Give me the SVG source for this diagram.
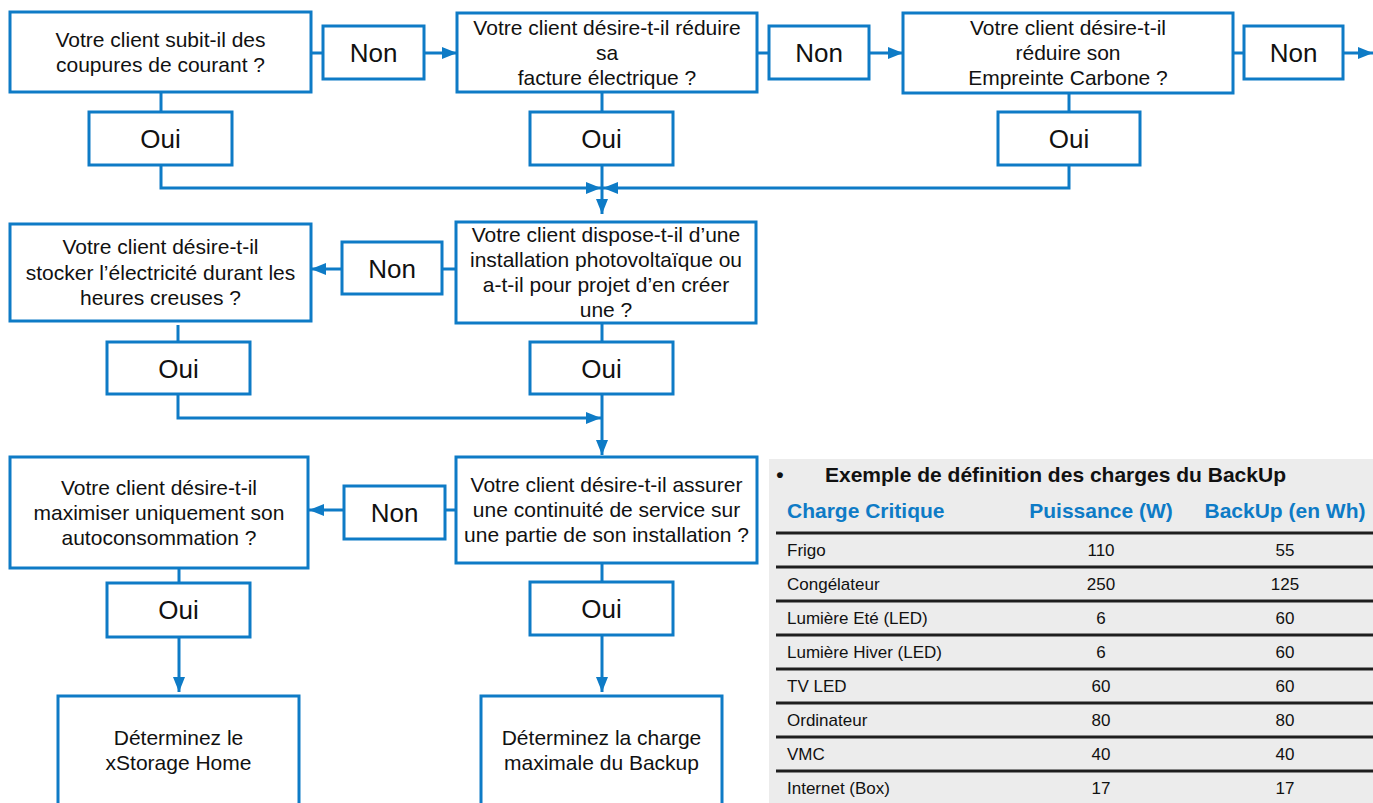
<svg xmlns="http://www.w3.org/2000/svg" width="1373" height="803" viewBox="0 0 1373 803">
<defs>
<marker id="ah" markerUnits="userSpaceOnUse" markerWidth="15" markerHeight="12" refX="15" refY="6" orient="auto">
<path d="M0,0 L15,6 L0,12 z" fill="#0e7bc6"/>
</marker>
<style>
.box{fill:#fff;stroke:#0e7bc6;stroke-width:3}
.t{font-family:"Liberation Sans",Arial,sans-serif;font-size:21px;fill:#111;text-anchor:middle}
.yn{font-family:"Liberation Sans",Arial,sans-serif;font-size:26px;fill:#111;text-anchor:middle}
.c{fill:none;stroke:#0e7bc6;stroke-width:3}
.ca{fill:none;stroke:#0e7bc6;stroke-width:3;marker-end:url(#ah)}
.tb{font-family:"Liberation Sans",Arial,sans-serif;font-size:17px;fill:#111}
.th{font-family:"Liberation Sans",Arial,sans-serif;font-size:21px;font-weight:bold;fill:#0e7bc6}
.tt{font-family:"Liberation Sans",Arial,sans-serif;font-size:21px;font-weight:bold;fill:#111}
.rl{stroke:#1e1e1e;stroke-width:3}
</style>
</defs>
<rect width="1373" height="803" fill="#fff"/>

<g id="connectors">
<line class="c" x1="311" y1="53" x2="323" y2="53"/>
<line class="ca" x1="424" y1="53" x2="457" y2="53"/>
<line class="c" x1="757" y1="53" x2="769" y2="53"/>
<line class="ca" x1="869" y1="53" x2="903" y2="53"/>
<line class="c" x1="1233" y1="53" x2="1244" y2="53"/>
<line class="ca" x1="1343" y1="53" x2="1373" y2="53"/>
<line class="c" x1="161" y1="92" x2="161" y2="112"/>
<line class="c" x1="602" y1="92" x2="602" y2="112"/>
<line class="c" x1="1069" y1="93" x2="1069" y2="112"/>
<path class="ca" d="M161,165 V188 H601"/>
<path class="ca" d="M1069,165 V188 H603"/>
<path class="ca" d="M602,165 V214"/>
<line class="c" x1="456" y1="269" x2="442" y2="269"/>
<line class="ca" x1="342" y1="269" x2="311" y2="269"/>
<line class="c" x1="602" y1="323" x2="602" y2="342"/>
<line class="c" x1="178" y1="325" x2="178" y2="342"/>
<path class="ca" d="M178,394 V418 H601"/>
<path class="ca" d="M602,394 V455"/>
<line class="c" x1="456" y1="510" x2="445" y2="510"/>
<line class="ca" x1="344" y1="510" x2="309" y2="510"/>
<line class="c" x1="602" y1="563" x2="602" y2="582"/>
<line class="c" x1="179" y1="568" x2="179" y2="583"/>
<line class="ca" x1="602" y1="635" x2="602" y2="692"/>
<line class="ca" x1="179" y1="637" x2="179" y2="692"/>
</g>

<g id="q1"><rect class="box" x="10" y="12" width="301" height="80"/>
<text class="t" x="160.5" y="47">Votre client subit-il des</text>
<text class="t" x="160.5" y="72">coupures de courant ?</text></g>
<g id="non1"><rect class="box" x="323" y="26" width="101" height="53"/><text class="yn" x="373.5" y="62">Non</text></g>
<g id="oui1"><rect class="box" x="89" y="112" width="143" height="53"/><text class="yn" x="160.5" y="148">Oui</text></g>

<g id="q2"><rect class="box" x="457" y="13" width="300" height="79"/>
<text class="t" x="607" y="35">Votre client désire-t-il réduire</text>
<text class="t" x="607" y="60">sa</text>
<text class="t" x="607" y="85">facture électrique ?</text></g>
<g id="non2"><rect class="box" x="769" y="26" width="100" height="53"/><text class="yn" x="819" y="62">Non</text></g>
<g id="oui2"><rect class="box" x="530" y="112" width="143" height="53"/><text class="yn" x="601.5" y="148">Oui</text></g>

<g id="q3"><rect class="box" x="903" y="13" width="330" height="80"/>
<text class="t" x="1068" y="35">Votre client désire-t-il</text>
<text class="t" x="1068" y="60">réduire son</text>
<text class="t" x="1068" y="85">Empreinte Carbone ?</text></g>
<g id="non3"><rect class="box" x="1244" y="26" width="99" height="53"/><text class="yn" x="1293.5" y="62">Non</text></g>
<g id="oui3"><rect class="box" x="998" y="112" width="142" height="53"/><text class="yn" x="1069" y="148">Oui</text></g>

<g id="q4"><rect class="box" x="456" y="222" width="300" height="101"/>
<text class="t" x="606" y="242">Votre client dispose-t-il d’une</text>
<text class="t" x="606" y="267">installation photovoltaïque ou</text>
<text class="t" x="606" y="292">a-t-il pour projet d’en créer</text>
<text class="t" x="606" y="317">une ?</text></g>
<g id="non4"><rect class="box" x="342" y="242" width="100" height="52"/><text class="yn" x="392" y="278">Non</text></g>
<g id="oui4"><rect class="box" x="530" y="342" width="143" height="52"/><text class="yn" x="601.5" y="378">Oui</text></g>

<g id="q5"><rect class="box" x="10" y="224" width="301" height="97"/>
<text class="t" x="160.5" y="254">Votre client désire-t-il</text>
<text class="t" x="160.5" y="279.5">stocker l’électricité durant les</text>
<text class="t" x="160.5" y="305">heures creuses ?</text></g>
<g id="oui5"><rect class="box" x="107" y="342" width="143" height="52"/><text class="yn" x="178.5" y="378">Oui</text></g>

<g id="q6"><rect class="box" x="456" y="457" width="301" height="106"/>
<text class="t" x="606.5" y="492">Votre client désire-t-il assurer</text>
<text class="t" x="606.5" y="517">une continuité de service sur</text>
<text class="t" x="606.5" y="542">une partie de son installation ?</text></g>
<g id="non5"><rect class="box" x="344" y="486" width="101" height="53"/><text class="yn" x="394.5" y="522">Non</text></g>
<g id="oui6"><rect class="box" x="530" y="582" width="143" height="53"/><text class="yn" x="601.5" y="618">Oui</text></g>

<g id="q7"><rect class="box" x="10" y="457" width="298" height="111"/>
<text class="t" x="159" y="495">Votre client désire-t-il</text>
<text class="t" x="159" y="520">maximiser uniquement son</text>
<text class="t" x="159" y="545">autoconsommation ?</text></g>
<g id="oui7"><rect class="box" x="107" y="583" width="143" height="54"/><text class="yn" x="178.5" y="619">Oui</text></g>

<g id="r1"><rect class="box" x="58" y="696" width="241" height="130"/>
<text class="t" x="178.5" y="745">Déterminez le</text>
<text class="t" x="178.5" y="770">xStorage Home</text></g>
<g id="r2"><rect class="box" x="481" y="696" width="241" height="130"/>
<text class="t" x="601.5" y="745">Déterminez la charge</text>
<text class="t" x="601.5" y="770">maximale du Backup</text></g>

<g id="table">
<rect x="769" y="459" width="604" height="344" fill="#ececec"/>
<text class="tt" x="780" y="482" text-anchor="middle">•</text>
<text class="tt" x="825" y="482">Exemple de définition des charges du BackUp</text>
<text class="th" x="787" y="518">Charge Critique</text>
<text class="th" x="1101" y="518" text-anchor="middle">Puissance (W)</text>
<text class="th" x="1285" y="518" text-anchor="middle">BackUp (en Wh)</text>
<line class="rl" x1="776" y1="533" x2="1373" y2="533"/>
<line class="rl" x1="776" y1="567" x2="1373" y2="567"/>
<line class="rl" x1="776" y1="601" x2="1373" y2="601"/>
<line class="rl" x1="776" y1="635" x2="1373" y2="635"/>
<line class="rl" x1="776" y1="669" x2="1373" y2="669"/>
<line class="rl" x1="776" y1="703" x2="1373" y2="703"/>
<line class="rl" x1="776" y1="737" x2="1373" y2="737"/>
<line class="rl" x1="776" y1="771" x2="1373" y2="771"/>
<g class="tb">
<text x="787" y="556">Frigo</text><text x="1101" y="556" text-anchor="middle">110</text><text x="1285" y="556" text-anchor="middle">55</text>
<text x="787" y="590">Congélateur</text><text x="1101" y="590" text-anchor="middle">250</text><text x="1285" y="590" text-anchor="middle">125</text>
<text x="787" y="624">Lumière Eté (LED)</text><text x="1101" y="624" text-anchor="middle">6</text><text x="1285" y="624" text-anchor="middle">60</text>
<text x="787" y="658">Lumière Hiver (LED)</text><text x="1101" y="658" text-anchor="middle">6</text><text x="1285" y="658" text-anchor="middle">60</text>
<text x="787" y="692">TV LED</text><text x="1101" y="692" text-anchor="middle">60</text><text x="1285" y="692" text-anchor="middle">60</text>
<text x="787" y="726">Ordinateur</text><text x="1101" y="726" text-anchor="middle">80</text><text x="1285" y="726" text-anchor="middle">80</text>
<text x="787" y="760">VMC</text><text x="1101" y="760" text-anchor="middle">40</text><text x="1285" y="760" text-anchor="middle">40</text>
<text x="787" y="794">Internet (Box)</text><text x="1101" y="794" text-anchor="middle">17</text><text x="1285" y="794" text-anchor="middle">17</text>
</g>
</g>
</svg>
